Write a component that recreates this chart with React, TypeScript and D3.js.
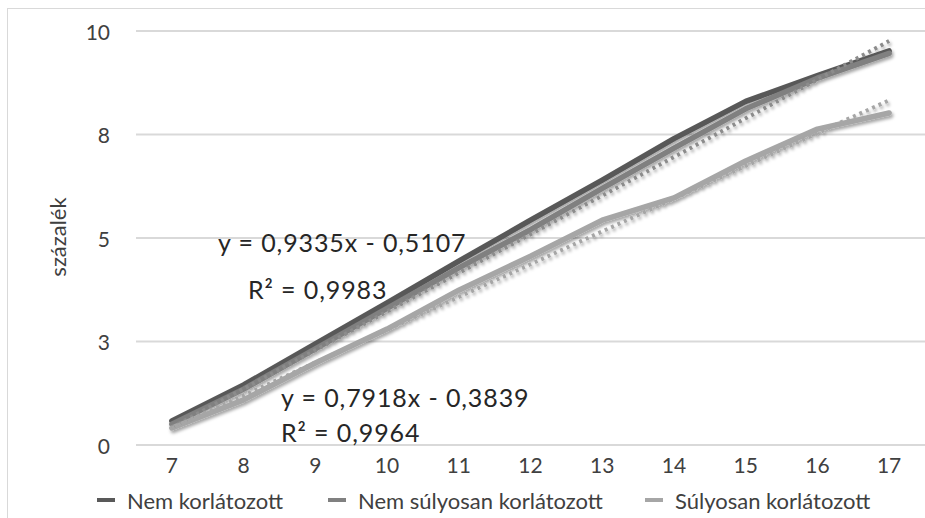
import React from "react";
import * as d3 from "d3";

const categories = ["7", "8", "9", "10", "11", "12", "13", "14", "15", "16", "17"];
const seriesNames = ["Nem korlátozott", "Nem súlyosan korlátozott", "Súlyosan korlátozott"];
const nemKorlatozott = [0.58, 1.45, 2.44, 3.43, 4.44, 5.43, 6.4, 7.4, 8.3, 8.92, 9.52];
const nemSulyosan = [0.5, 1.35, 2.32, 3.3, 4.28, 5.2, 6.2, 7.17, 8.12, 8.86, 9.46];
const sulyosan = [0.41, 1.09, 1.98, 2.8, 3.74, 4.56, 5.43, 5.97, 6.86, 7.63, 8.02];
const yTicks = [0, 2.5, 5, 7.5, 10];
const yTickLabels = ["0", "3", "5", "8", "10"];
const trend1 = { slope: 0.9335, intercept: -0.5107 };
const trend2 = { slope: 0.7918, intercept: -0.3839 };
const eq1 = ["y = 0,9335x - 0,5107", "R² = 0,9983"];
const eq2 = ["y = 0,7918x - 0,3839", "R² = 0,9964"];

const W = 925;
const H = 518;
const FONT = "Lato, 'Open Sans', sans-serif";
const colors = ["#595959", "#808080", "#a6a6a6"];
const trendColors = ["#8c8c8c", "#a6a6a6"];

export default function App() {
  const x = d3.scalePoint<string>().domain(categories).range([136, 925]).padding(0.5);
  const y = d3.scaleLinear().domain([0, 10]).range([445, 31]);
  const line = d3
    .line<number>()
    .x((_, i) => x(categories[i]) as number)
    .y((d) => y(d));
  const data = [nemKorlatozott, nemSulyosan, sulyosan];
  const trends = [trend1, trend2].map((t) =>
    categories.map((_, i) => t.slope * (i + 1) + t.intercept)
  );
  const legendX = [97, 328, 645];

  return (
    <svg
      width={W}
      height={H}
      style={{ position: "absolute", left: 0, top: 0, background: "#fff" }}
      fontFamily={FONT}
    >
      <defs>
        <filter id="sh" x="-10%" y="-10%" width="120%" height="130%">
          <feDropShadow dx="1.5" dy="2.5" stdDeviation="1.5" floodColor="#000" floodOpacity="0.35" />
        </filter>
      </defs>
      <rect x={7.5} y={8.5} width={940} height={540} fill="#fff" stroke="#d9d9d9" strokeWidth={1} />
      {yTicks.map((t) => (
        <line key={t} x1={136} x2={925} y1={y(t)} y2={y(t)} stroke="#d9d9d9" strokeWidth={2} />
      ))}
      {yTicks.map((t, i) => (
        <text
          key={"yl" + t}
          x={110}
          y={y(t)}
          textAnchor="end"
          dominantBaseline="central"
          fontSize={21}
          fill="#404040"
        >
          {yTickLabels[i]}
        </text>
      ))}
      {categories.map((c) => (
        <text
          key={"xl" + c}
          x={x(c)}
          y={464}
          textAnchor="middle"
          dominantBaseline="central"
          fontSize={21}
          fill="#404040"
        >
          {c}
        </text>
      ))}
      <text
        transform={`translate(57,237) rotate(-90)`}
        textAnchor="middle"
        dominantBaseline="central"
        fontSize={22}
        fill="#404040"
      >
        százalék
      </text>
      <g filter="url(#sh)">
        {data.map((d, i) => (
          <path
            key={"s" + i}
            d={line(d) || ""}
            fill="none"
            stroke={colors[i]}
            strokeWidth={5.5}
            strokeLinecap="round"
            strokeLinejoin="round"
          />
        ))}
        {trends.map((d, i) => (
          <path
            key={"t" + i}
            d={line(d) || ""}
            fill="none"
            stroke={trendColors[i]}
            strokeWidth={4}
            strokeDasharray="3 4"
          />
        ))}
      </g>
      <g fontSize={25} letterSpacing={0.9} fill="#262626">
        <text x={218} y={242} dominantBaseline="central">
          {eq1[0]}
        </text>
        <text x={248} y={289} dominantBaseline="central">
          {eq1[1]}
        </text>
        <text x={281} y={397} dominantBaseline="central">
          {eq2[0]}
        </text>
        <text x={281} y={432} dominantBaseline="central">
          {eq2[1]}
        </text>
      </g>
      {seriesNames.map((n, i) => (
        <g key={"lg" + i}>
          <line
            x1={legendX[i]}
            x2={legendX[i] + 18}
            y1={500}
            y2={500}
            stroke={colors[i]}
            strokeWidth={4}
          />
          <text
            x={legendX[i] + 30}
            y={500}
            dominantBaseline="central"
            fontSize={22}
            fill="#404040"
          >
            {n}
          </text>
        </g>
      ))}
    </svg>
  );
}
